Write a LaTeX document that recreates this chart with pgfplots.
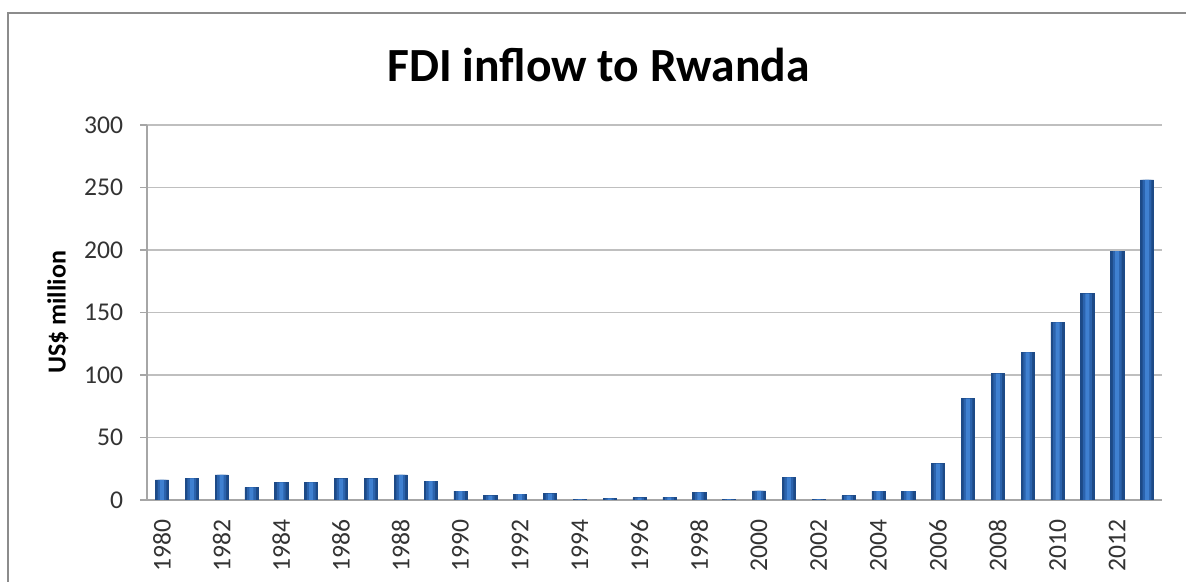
\documentclass[border=0pt]{standalone}
\usepackage{pgfplots}
\pgfplotsset{compat=1.18}
\usepackage{fontspec}
\setmainfont{Carlito}
\definecolor{barDark}{HTML}{1D4A87}
\definecolor{barMid}{HTML}{2B63AD}
\definecolor{barLight}{HTML}{3F80D0}
\definecolor{gridc}{HTML}{BFBFBF}
\definecolor{axisc}{HTML}{A6A6A6}
\definecolor{tickc}{HTML}{333333}
\definecolor{framec}{HTML}{8C8C8C}
\pgfplotstableread{
year value
1980 16
1981 17.3
1982 20
1983 10
1984 14
1985 14
1986 17
1987 17
1988 20
1989 15
1990 7
1991 3.5
1992 4.6
1993 5
1994 0.4
1995 1.2
1996 1.8
1997 2
1998 6
1999 0.5
2000 7.3
2001 18
2002 0.5
2003 3.5
2004 7
2005 7
2006 29
2007 81
2008 101
2009 118
2010 142
2011 165
2012 199
2013 256
}\fdi
\begin{document}
\begin{tikzpicture}
\useasboundingbox (0,0) rectangle (593pt,291pt);
\draw[framec, line width=1pt] (4pt,0) -- (4pt,284.5pt) -- (593pt,284.5pt);
\begin{axis}[
  at={(73.5pt,41pt)}, anchor=south west,
  scale only axis, width=507.5pt, height=187.5pt,
  xmin=1979.5, xmax=2013.5, ymin=0, ymax=300,
  xtick={1980,1982,...,2012},
  ytick={0,50,...,300},
  axis lines*=left,
  axis line style={axisc, line width=0.8pt},
  ymajorgrids, grid style={gridc, line width=0.75pt},
  tick align=outside, major tick length=3.5pt,
  xtick style={draw=none},
  ytick style={axisc, line width=0.8pt},
  /pgf/number format/1000 sep={},
  /pgf/number format/assume math mode=true,
  tick label style={font=\fontsize{12.8}{14}\selectfont, text=tickc},
  yticklabel style={anchor=east, inner sep=0pt, xshift=-8.25pt},
  xticklabel style={rotate=90, anchor=east, inner sep=0pt},
  xticklabel shift=6pt,
  ylabel={US\$ million},
  ylabel style={at={(axis description cs:-0.0877,0.5)}, anchor=center, font=\fontsize{13}{15}\selectfont\bfseries},
  title={FDI inflow to Rwanda},
  title style={at={(axis description cs:0.5,1)}, anchor=center, yshift=24pt, xshift=-28pt, font=\fontsize{23.8}{28}\selectfont\bfseries},
]
\addplot[ybar, bar width=6.6pt, draw=barDark, line width=0.3pt, fill=barDark] table[x=year,y=value]{\fdi};
\addplot[ybar, bar width=4.4pt, draw=none, fill=barMid] table[x=year,y=value]{\fdi};
\addplot[ybar, bar width=2pt, draw=none, fill=barLight] table[x=year,y=value]{\fdi};
\end{axis}
\end{tikzpicture}
\end{document}
